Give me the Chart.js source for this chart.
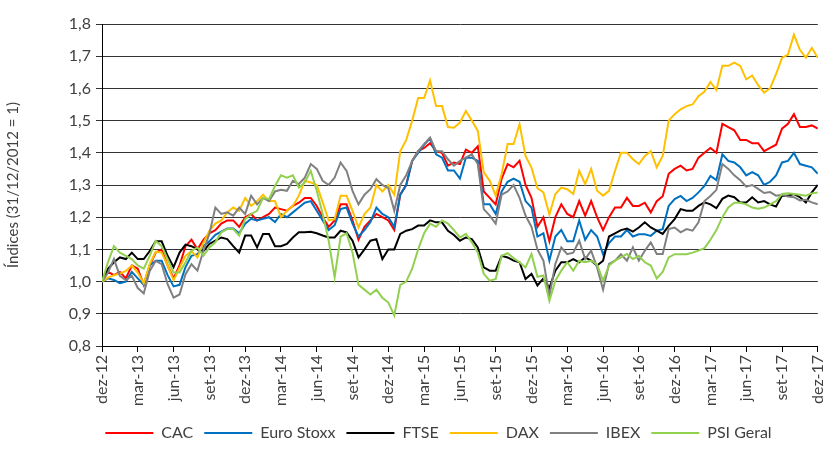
<!DOCTYPE html>
<html>
<head>
<meta charset="utf-8">
<script src="https://cdn.jsdelivr.net/npm/chart.js@4.4.0/dist/chart.umd.min.js"></script>
<style>
  html, body { margin: 0; padding: 0; background: #fff; }
  #wrap { width: 840px; height: 466px; }
</style>
</head>
<body>
<div id="wrap"><canvas id="chart"></canvas></div>
<script>
// ticks every 3 months, values every half month
const tickLabels = ["dez-12", "mar-13", "jun-13", "set-13", "dez-13", "mar-14", "jun-14", "set-14", "dez-14",
    "mar-15", "jun-15", "set-15", "dez-15", "mar-16", "jun-16", "set-16", "dez-16", "mar-17", "jun-17", "set-17", "dez-17"];

const cac = [1.00, 1.03, 1.02, 1.03, 1.01, 1.05, 1.04, 0.99, 1.05, 1.09, 1.10, 1.05, 1.01, 1.05, 1.11, 1.13,
    1.10, 1.13, 1.15, 1.16, 1.18, 1.19, 1.19, 1.17, 1.20, 1.21, 1.19, 1.20, 1.21, 1.23, 1.225,
    1.22, 1.235, 1.245, 1.26, 1.26, 1.235, 1.20, 1.17, 1.19, 1.24, 1.24, 1.19, 1.13, 1.17,
    1.19, 1.21, 1.20, 1.19, 1.16, 1.27, 1.30, 1.375, 1.405, 1.415, 1.43, 1.405, 1.40, 1.36, 1.37,
    1.365, 1.41, 1.40, 1.42, 1.28, 1.26, 1.24, 1.32, 1.365, 1.355, 1.375, 1.30, 1.26, 1.17, 1.20,
    1.125, 1.20, 1.24, 1.21, 1.20, 1.25, 1.205, 1.25, 1.20, 1.16, 1.20, 1.23, 1.23, 1.26, 1.235,
    1.235, 1.245, 1.215, 1.25, 1.265, 1.335, 1.35, 1.36, 1.345, 1.35, 1.385, 1.40, 1.415, 1.40, 1.49,
    1.48, 1.47, 1.44, 1.44, 1.43, 1.43, 1.405, 1.415, 1.425, 1.475, 1.49, 1.52, 1.48, 1.48, 1.485, 1.475];

const euroStoxx = [1.00, 1.01, 1.005, 0.995, 1.00, 1.03, 1.01, 0.99, 1.05, 1.065, 1.065, 1.02, 0.985, 0.99, 1.045, 1.08,
    1.085, 1.11, 1.125, 1.145, 1.155, 1.165, 1.165, 1.15, 1.18, 1.195, 1.19, 1.195, 1.20, 1.185, 1.21,
    1.20, 1.215, 1.23, 1.245, 1.25, 1.22, 1.19, 1.16, 1.175, 1.225, 1.23, 1.18, 1.14, 1.16,
    1.185, 1.23, 1.21, 1.20, 1.17, 1.27, 1.30, 1.375, 1.40, 1.425, 1.445, 1.395, 1.385, 1.345, 1.345,
    1.32, 1.385, 1.385, 1.375, 1.24, 1.24, 1.21, 1.28, 1.31, 1.32, 1.31, 1.25, 1.23, 1.14, 1.15,
    1.065, 1.14, 1.16, 1.125, 1.125, 1.19, 1.13, 1.16, 1.14, 1.085, 1.12, 1.14, 1.14, 1.16, 1.14,
    1.147, 1.147, 1.142, 1.158, 1.163, 1.235, 1.256, 1.266, 1.25, 1.26, 1.277, 1.297, 1.328, 1.315, 1.395,
    1.375, 1.37, 1.355, 1.33, 1.34, 1.33, 1.30, 1.31, 1.33, 1.37, 1.375, 1.40, 1.365, 1.36, 1.355, 1.335];

const ftse = [1.00, 1.04, 1.06, 1.075, 1.07, 1.09, 1.07, 1.07, 1.095, 1.125, 1.125, 1.08, 1.045, 1.09, 1.115, 1.11,
    1.10, 1.095, 1.117, 1.127, 1.137, 1.132, 1.11, 1.09, 1.143, 1.143, 1.106, 1.148, 1.148, 1.11, 1.11,
    1.117, 1.137, 1.153, 1.153, 1.155, 1.15, 1.143, 1.137, 1.137, 1.158, 1.153, 1.127, 1.075, 1.10,
    1.127, 1.132, 1.07, 1.10, 1.10, 1.148, 1.158, 1.163, 1.174, 1.174, 1.19, 1.184, 1.184, 1.158, 1.145,
    1.127, 1.137, 1.132, 1.106, 1.044, 1.034, 1.034, 1.08, 1.075, 1.065, 1.06, 1.008, 1.024, 0.988, 1.01,
    0.98, 1.034, 1.06, 1.06, 1.07, 1.06, 1.075, 1.065, 1.05, 1.065, 1.14, 1.15, 1.16, 1.165, 1.155,
    1.168, 1.184, 1.168, 1.158, 1.148, 1.173, 1.194, 1.225, 1.22, 1.22, 1.235, 1.246, 1.24, 1.228, 1.257,
    1.267, 1.262, 1.246, 1.246, 1.262, 1.246, 1.25, 1.24, 1.233, 1.267, 1.267, 1.272, 1.262, 1.246, 1.277, 1.30];

const dax = [1.00, 1.012, 1.02, 1.025, 1.033, 1.05, 1.028, 0.994, 1.054, 1.093, 1.09, 1.05, 1.004, 1.043, 1.08, 1.095,
    1.075, 1.12, 1.158, 1.18, 1.19, 1.215, 1.23, 1.22, 1.26, 1.235, 1.25, 1.27, 1.25, 1.25, 1.20,
    1.22, 1.235, 1.267, 1.313, 1.308, 1.30, 1.246, 1.19, 1.194, 1.267, 1.267, 1.22, 1.168, 1.21,
    1.23, 1.30, 1.28, 1.30, 1.27, 1.405, 1.44, 1.50, 1.57, 1.57, 1.625, 1.545, 1.545, 1.48, 1.478,
    1.494, 1.53, 1.50, 1.468, 1.34, 1.313, 1.267, 1.334, 1.427, 1.427, 1.489, 1.39, 1.354, 1.29, 1.277,
    1.208, 1.272, 1.292, 1.287, 1.272, 1.344, 1.303, 1.35, 1.282, 1.267, 1.282, 1.344, 1.40, 1.40, 1.38,
    1.365, 1.39, 1.405, 1.355, 1.39, 1.50, 1.52, 1.535, 1.545, 1.55, 1.576, 1.59, 1.62, 1.595, 1.67,
    1.67, 1.68, 1.67, 1.628, 1.64, 1.61, 1.587, 1.60, 1.644, 1.695, 1.705, 1.767, 1.72, 1.695, 1.726, 1.695];

const ibex = [1.00, 1.028, 1.07, 1.018, 1.004, 1.018, 0.98, 0.963, 1.033, 1.064, 1.054, 0.992, 0.95, 0.96, 1.023, 1.054,
    1.034, 1.096, 1.148, 1.23, 1.21, 1.215, 1.205, 1.23, 1.21, 1.267, 1.24, 1.26, 1.25, 1.28, 1.285,
    1.282, 1.313, 1.303, 1.323, 1.365, 1.35, 1.313, 1.30, 1.323, 1.37, 1.344, 1.282, 1.24, 1.27,
    1.287, 1.318, 1.30, 1.29, 1.22, 1.30, 1.33, 1.375, 1.405, 1.427, 1.447, 1.405, 1.405, 1.38, 1.36,
    1.375, 1.385, 1.395, 1.365, 1.225, 1.205, 1.18, 1.27, 1.28, 1.30, 1.26, 1.205, 1.17, 1.10, 1.065,
    0.955, 1.055, 1.106, 1.085, 1.09, 1.127, 1.07, 1.096, 1.044, 0.975, 1.055, 1.065, 1.085, 1.065, 1.106,
    1.065, 1.096, 1.122, 1.086, 1.086, 1.163, 1.168, 1.153, 1.163, 1.158, 1.184, 1.25, 1.266, 1.285, 1.365,
    1.35, 1.33, 1.315, 1.295, 1.30, 1.288, 1.275, 1.278, 1.267, 1.27, 1.264, 1.262, 1.252, 1.254, 1.246, 1.24];

const psiGeral = [1.00, 1.06, 1.11, 1.09, 1.08, 1.07, 1.05, 1.04, 1.08, 1.126, 1.11, 1.07, 1.028, 1.028, 1.06, 1.095,
    1.106, 1.08, 1.106, 1.122, 1.153, 1.163, 1.163, 1.143, 1.194, 1.21, 1.22, 1.26, 1.256, 1.297, 1.33,
    1.323, 1.33, 1.292, 1.308, 1.344, 1.282, 1.21, 1.127, 1.013, 1.14, 1.15, 1.09, 0.99, 0.975,
    0.96, 0.975, 0.95, 0.935, 0.895, 0.99, 1.00, 1.04, 1.10, 1.15, 1.18, 1.17, 1.19, 1.18, 1.16,
    1.137, 1.148, 1.122, 1.09, 1.024, 1.003, 1.008, 1.08, 1.088, 1.073, 1.06, 1.044, 1.086, 1.015, 1.019,
    0.94, 1.003, 1.034, 1.06, 1.034, 1.065, 1.06, 1.065, 1.053, 1.003, 1.05, 1.065, 1.075, 1.086, 1.07,
    1.08, 1.06, 1.05, 1.01, 1.03, 1.075, 1.085, 1.085, 1.085, 1.09, 1.096, 1.104, 1.13, 1.16, 1.20,
    1.23, 1.245, 1.245, 1.24, 1.23, 1.226, 1.23, 1.24, 1.25, 1.272, 1.274, 1.272, 1.27, 1.267, 1.274, 1.277];

const seriesNames = ["CAC", "Euro Stoxx", "FTSE", "DAX", "IBEX", "PSI Geral"];
const seriesValues = [cac, euroStoxx, ftse, dax, ibex, psiGeral];
const seriesColors = ["#FF0000", "#0070C0", "#000000", "#FFC000", "#808080", "#92D050"];

const FONT = "Lato, 'Open Sans', sans-serif";
const TEXT = "#404040";
const LEGEND_SHIFT = 22;

// month index (0 = dez-12) for each half-month point
function toPoints(values) {
    return values.map((v, i) => ({ x: i / 2, y: v }));
}

const datasets = seriesNames.map((name, k) => ({
    label: name,
    data: toPoints(seriesValues[k]),
    borderColor: seriesColors[k],
    backgroundColor: seriesColors[k],
    borderWidth: 2,
    pointRadius: 0,
    tension: 0,
    order: seriesNames.length - k // Excel draws the last series on top
}));

const legendShift = {
    id: 'legendShift',
    afterLayout(chart) {
        chart.legend.left += LEGEND_SHIFT;
        chart.legend.right += LEGEND_SHIFT;
    }
};

new Chart(document.getElementById('chart'), {
    type: 'line',
    data: { datasets },
    plugins: [legendShift],
    options: {
        responsive: true,
        maintainAspectRatio: false,
        animation: false,
        layout: { padding: { left: 0, right: 7, top: 24, bottom: 15 } },
        scales: {
            x: {
                type: 'linear',
                min: 0, max: 60,
                border: { color: '#000', width: 1 },
                grid: { drawOnChartArea: false, drawTicks: true, tickLength: 6, color: '#000' },
                ticks: {
                    stepSize: 3,
                    autoSkip: false,
                    minRotation: 90, maxRotation: 90,
                    color: TEXT,
                    font: { family: FONT, size: 16 },
                    callback: v => tickLabels[Math.round(v / 3)]
                },
                afterFit: s => { s.height = 68; }
            },
            y: {
                min: 0.8, max: 1.8,
                border: { color: '#000', width: 1 },
                grid: { color: '#333', lineWidth: 1, tickLength: 6 },
                ticks: {
                    stepSize: 0.1,
                    color: TEXT,
                    padding: 5,
                    font: { family: FONT, size: 16 },
                    callback: v => v.toFixed(1).replace('.', ',')
                },
                title: {
                    display: true,
                    text: 'Índices (31/12/2012 = 1)',
                    color: TEXT,
                    font: { family: FONT, size: 15 }
                },
                afterFit: s => { s.width = 102; }
            }
        },
        plugins: {
            legend: {
                position: 'bottom',
                labels: {
                    boxWidth: 48,
                    boxHeight: 2,
                    padding: 11,
                    color: TEXT,
                    font: { family: FONT, size: 16 },
                    sort: (a, b) => a.datasetIndex - b.datasetIndex,
                    generateLabels: chart => Chart.defaults.plugins.legend.labels.generateLabels(chart)
                        .map(l => Object.assign(l, { lineWidth: 0 }))
                }
            },
            tooltip: { enabled: false }
        }
    }
});
</script>
</body>
</html>
